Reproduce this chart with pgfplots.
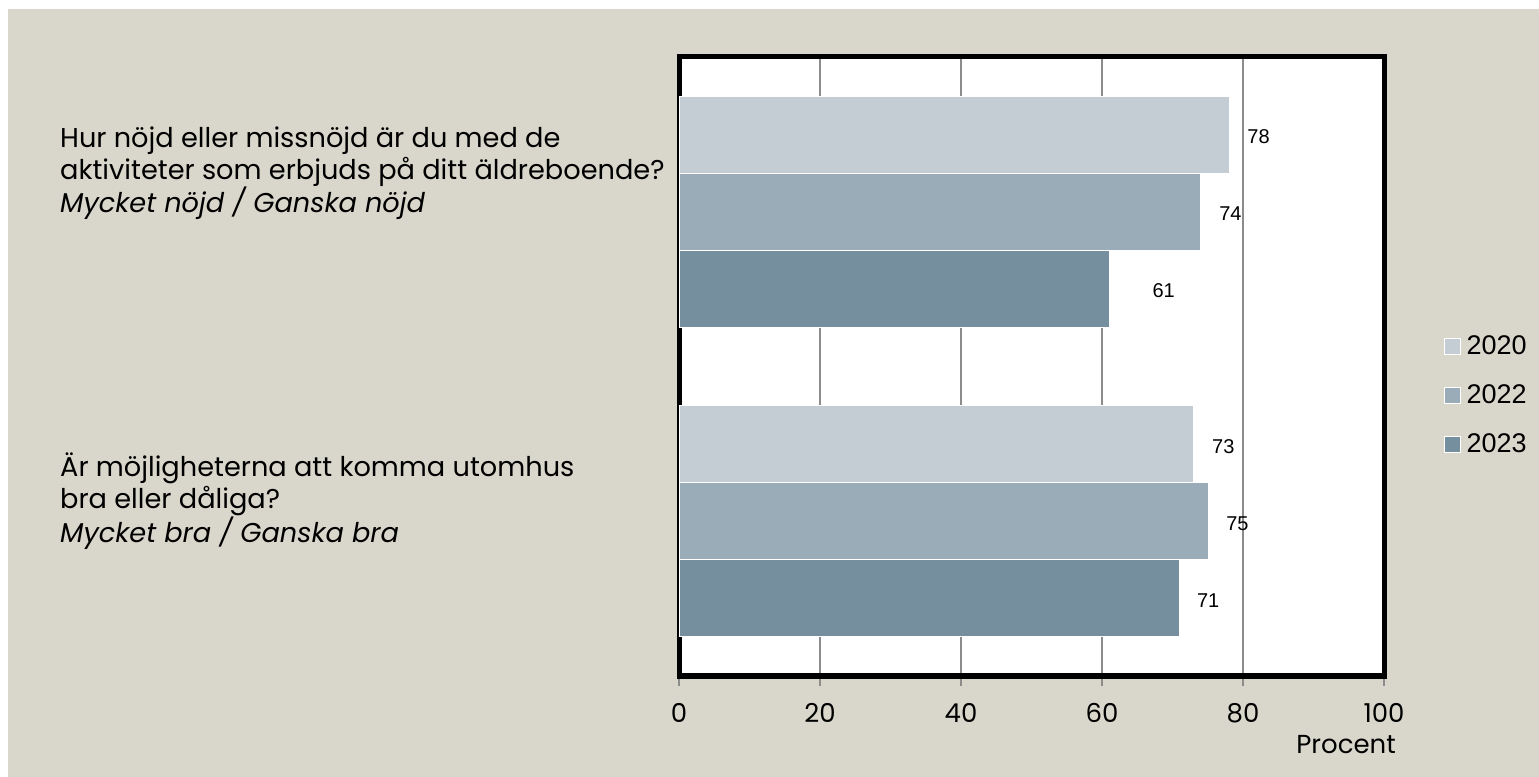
\documentclass[border=0pt]{standalone}
\usepackage{fontspec}
\setmainfont{Poppins}
\newfontfamily\arialf{Liberation Sans}
\usepackage{pgfplots}
\pgfplotsset{compat=1.18}
\definecolor{bgc}{HTML}{D9D7CB}
\definecolor{c20}{HTML}{C3CDD3}
\definecolor{c22}{HTML}{99ACB7}
\definecolor{c23}{HTML}{758F9E}
\definecolor{gridc}{HTML}{8C8C8C}
\begin{document}
\begin{tikzpicture}
\fill[white] (0bp,0bp) rectangle (1539bp,777bp);
\fill[bgc] (8bp,0bp) rectangle (1539bp,768bp);
\begin{axis}[
  at={(679bp,101bp)}, anchor=south west,
  scale only axis, width=705bp, height=619bp,
  xbar, bar width=77bp,
  xmin=0, xmax=100, ymin=-0.5, ymax=1.5,
  xtick={0,20,...,100},
  ytick={0.066,1.125},
  yticklabels={{Är möjligheterna att komma utomhus\\bra eller dåliga?\\\textit{Mycket bra / Ganska bra}},{Hur nöjd eller missnöjd är du med de\\aktiviteter som erbjuds på ditt äldreboende?\\\textit{Mycket nöjd / Ganska nöjd}}},
  yticklabel style={anchor=west, align=left, inner sep=0pt, xshift=-609bp,
    font=\fontsize{27.2bp}{32bp}\selectfont, text=black},
  xticklabel style={font=\fontsize{26bp}{28bp}\selectfont, text=black, yshift=-14bp},
  /pgf/number format/assume math mode=true,
  xlabel={Procent},
  xlabel style={at={(rel axis cs:1,0)}, anchor=east, xshift=12bp, yshift=-69bp, inner sep=0pt,
    font=\fontsize{26bp}{28bp}\selectfont},
  xmajorgrids, grid style={gridc, line width=1.5bp},
  xtick pos=bottom, ytick pos=left, tick align=outside, major tick length=10bp,
  xtick style={gridc, line width=1.5bp}, ytick style={draw=none},
  axis line style={black, line width=5bp},
  axis background/.style={fill=white},
  nodes near coords,
  nodes near coords style={font=\arialf\fontsize{20bp}{20bp}\selectfont, text=black, anchor=west, yshift=-2bp},
  visualization depends on={rawx \as \rawx},
  legend style={at={(axis description cs:1,0.4556)}, anchor=west, xshift=57bp, yshift=0bp, draw=none, fill=none,
    font=\arialf\fontsize{27bp}{27bp}\selectfont, row sep=30bp, column sep=6bp,
    nodes={inner sep=0pt, text height=19bp, text depth=0bp}},
  legend cell align=left,
  legend image code/.code={\fill[#1] (0bp,-9bp) rectangle (16bp,7bp);},
]
\addplot[fill=c20, draw=white, line width=0.5bp, bar shift=77bp,
  every node near coord/.append style={xshift=15bp}] coordinates {(73,0) (78,1)};
\addplot[fill=c22, draw=white, line width=0.5bp, bar shift=0bp,
  every node near coord/.append style={xshift=15bp}] coordinates {(75,0) (74,1)};
\addplot[fill=c23, draw=white, line width=0.5bp, bar shift=-77bp,
  every node near coord/.append style={xshift={\rawx<65 ? 40bp : 14bp}}] coordinates {(71,0) (61,1)};
\legend{2020,2022,2023}
\draw[gridc, line width=1.5bp] ([yshift=-3.5bp]rel axis cs:0,0) -- ([yshift=-3.5bp]rel axis cs:1,0);
\end{axis}
\end{tikzpicture}
\end{document}
